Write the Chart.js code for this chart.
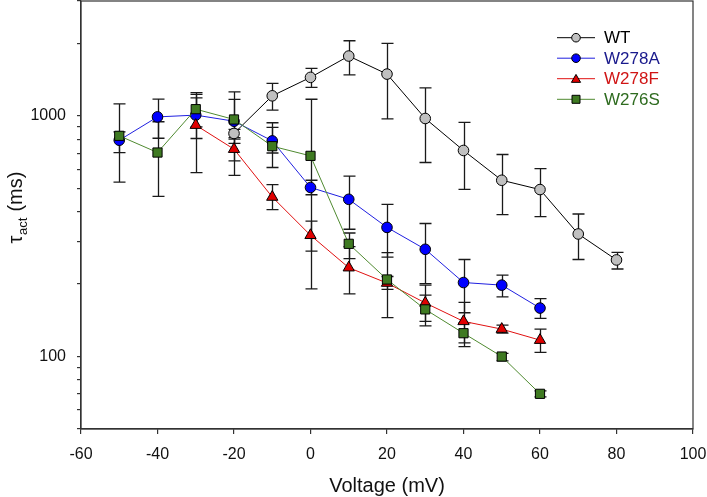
<!DOCTYPE html>
<html>
<head>
<meta charset="utf-8">
<script src="https://cdn.jsdelivr.net/npm/chart.js@4/dist/chart.umd.min.js"></script>
<style>
  html, body { margin: 0; padding: 0; background: #fff; }
  #wrap { width: 707px; height: 497px; position: relative; }
</style>
</head>
<body>
<div id="wrap"><canvas id="c" width="707" height="497"></canvas></div>
<script>
// ---- data ----
const voltages = [-50, -40, -30, -20, -10, 0, 10, 20, 30, 40, 50, 60, 70, 80];

const wtMean  = [null, null, null, 845, 1211, 1445, 1772, 1491, 975, 718, 540, 494, 323, 252];
const wtLow   = [null, null, null, 812, 1056, 1313, 1481, 972, 640, 495, 389, 381, 253, 231];
const wtHigh  = [null, null, null, 878, 1364, 1575, 2051, 2000, 1308, 939, 691, 604, 391, 271];

const aMean   = [792, 990, 1007, 950, 787, 504, 450, 344, 279, 203, 198, 159, null, null];
const aLow    = [704, 807, 805, 566, 610, 470, 338, 259, 201, 152, 177, 144, null, null];
const aHigh   = [858, 1173, 1188, 1258, 936, 540, 562, 429, 357, 253, 218, 174, null, null];

const fMean   = [null, null, 915, 727, 460, 319, 234, 202, 167, 140, 130, 117, null, null];
const fLow    = [null, null, 581, 650, 408, 274, 182, 190, 140, 114, 125, 104, null, null];
const fHigh   = [null, null, 1249, 800, 518, 365, 286, 215, 198, 168, 135, 130, null, null];

const sMean   = [826, 704, 1066, 966, 748, 682, 294, 209, 157, 125, 100, 70, null, null];
const sLow    = [530, 463, 900, 768, 701, 191, 255, 145, 134, 110, 96, 68, null, null];
const sHigh   = [1122, 945, 1227, 1170, 895, 1172, 326, 270, 180, 138, 103, 72, null, null];

const seriesNames = ['WT', 'W278A', 'W278F', 'W276S'];
const xTicks = [-60, -40, -20, 0, 20, 40, 60, 80, 100];
const yTicks = [50, 60, 70, 80, 90, 100, 200, 300, 400, 500, 600, 700, 800, 900, 1000, 2000, 3000];
const yLabelled = [100, 1000];

// ---- helpers ----
function pts(mean) {
  const out = [];
  voltages.forEach((v, i) => { if (mean[i] != null) out.push({x: v, y: mean[i]}); });
  return out;
}

const styles = [
  {line: '#000000', fill: '#c0c0c0', pointStyle: 'circle', r: 5.3, text: '#000000'},
  {line: '#1f1fe0', fill: '#0000ff', pointStyle: 'circle', r: 5.3, text: '#1a1a8c'},
  {line: '#e01010', fill: '#e00000', pointStyle: 'triangle', r: 6.5, text: '#d01515'},
  {line: '#4f8a30', fill: '#3f7a22', pointStyle: 'rect', r: 6.5, text: '#2e6b1f'}
];
const means = [wtMean, aMean, fMean, sMean];
const lows = [wtLow, aLow, fLow, sLow];
const highs = [wtHigh, aHigh, fHigh, sHigh];
const orders = [4, 3, 2, 1];

const datasets = seriesNames.map((name, k) => ({
  label: name,
  data: pts(means[k]),
  borderColor: styles[k].line,
  borderWidth: 1,
  backgroundColor: styles[k].fill,
  pointBackgroundColor: styles[k].fill,
  pointBorderColor: '#000',
  pointBorderWidth: 1,
  pointStyle: styles[k].pointStyle,
  pointRadius: styles[k].r,
  pointHoverRadius: styles[k].r,
  tension: 0,
  clip: false,
  order: orders[k],
  lows: lows[k],
  highs: highs[k]
}));

// ---- plugins ----
const errorBars = {
  id: 'errorBars',
  beforeDatasetsDraw(chart) {
    const ctx = chart.ctx;
    const xs = chart.scales.x, ys = chart.scales.y;
    ctx.save();
    ctx.strokeStyle = '#1a1a1a';
    ctx.lineWidth = 1.3;
    chart.data.datasets.forEach(ds => {
      voltages.forEach((v, i) => {
        const lo = ds.lows[i], hi = ds.highs[i];
        if (lo == null || hi == null) return;
        const px = Math.round(xs.getPixelForValue(v)) + 0.5;
        const pl = ys.getPixelForValue(lo), ph = ys.getPixelForValue(hi);
        ctx.beginPath();
        ctx.moveTo(px, pl); ctx.lineTo(px, ph);
        ctx.moveTo(px - 6, pl); ctx.lineTo(px + 6, pl);
        ctx.moveTo(px - 6, ph); ctx.lineTo(px + 6, ph);
        ctx.stroke();
      });
    });
    ctx.restore();
  }
};

function drawMarker(ctx, style, x, y, r, fill) {
  ctx.beginPath();
  if (style === 'circle') {
    ctx.arc(x, y, r, 0, Math.PI * 2);
  } else if (style === 'triangle') {
    ctx.moveTo(x, y - r);
    ctx.lineTo(x + r * 0.866, y + r * 0.5);
    ctx.lineTo(x - r * 0.866, y + r * 0.5);
    ctx.closePath();
  } else {
    ctx.rect(x - r, y - r, 2 * r, 2 * r);
  }
  ctx.fillStyle = fill;
  ctx.fill();
  ctx.strokeStyle = '#000';
  ctx.lineWidth = 1;
  ctx.stroke();
}

const frameAndText = {
  id: 'frameAndText',
  afterDraw(chart) {
    const ctx = chart.ctx;
    const a = chart.chartArea;
    ctx.save();
    // frame
    ctx.strokeStyle = '#333';
    ctx.lineWidth = 1.2;
    ctx.strokeRect(a.left, a.top, a.right - a.left, a.bottom - a.top);

    // legend
    const rows = [37.7, 58.2, 78.7, 99.3];
    const sizes = [4.3, 4.3, 5.3, 4.0];
    seriesNames.forEach((name, k) => {
      const y = rows[k];
      ctx.strokeStyle = styles[k].line;
      ctx.lineWidth = 1;
      ctx.beginPath();
      ctx.moveTo(557, y); ctx.lineTo(595, y);
      ctx.stroke();
      drawMarker(ctx, styles[k].pointStyle, 576, y + (k === 2 ? 1 : 0), sizes[k], styles[k].fill);
      ctx.fillStyle = styles[k].text;
      ctx.font = '17px "Liberation Sans", Arial, sans-serif';
      ctx.textBaseline = 'middle';
      ctx.textAlign = 'left';
      ctx.fillText(name, 604, y + 1);
    });

    // x title
    ctx.fillStyle = '#111';
    ctx.font = '20px "Liberation Sans", Arial, sans-serif';
    ctx.textAlign = 'center';
    ctx.textBaseline = 'alphabetic';
    ctx.fillText('Voltage (mV)', (a.left + a.right) / 2, 492);

    // y title with subscript
    const big = '20px "Liberation Sans", Arial, sans-serif';
    const small = '13px "Liberation Sans", Arial, sans-serif';
    ctx.font = big; const w1 = ctx.measureText('\u03C4').width;
    ctx.font = small; const w2 = ctx.measureText('act').width;
    ctx.font = big; const w3 = ctx.measureText(' (ms)').width;
    const total = w1 + w2 + w3;
    ctx.translate(22, 208);
    ctx.rotate(-Math.PI / 2);
    ctx.textAlign = 'left';
    let x0 = -total / 2;
    ctx.font = big; ctx.fillText('\u03C4', x0, 0);
    ctx.font = small; ctx.fillText('act', x0 + w1 + 0.5, 5);
    ctx.font = big; ctx.fillText(' (ms)', x0 + w1 + w2 + 1, 0);
    ctx.restore();
  }
};

const tickFont = {family: '"Liberation Sans", Arial, sans-serif', size: 16};

new Chart(document.getElementById('c'), {
  type: 'line',
  data: { datasets },
  options: {
    responsive: false,
    animation: false,
    devicePixelRatio: 1,
    layout: { autoPadding: false, padding: { left: 0, right: 14, top: 1, bottom: 0 } },
    plugins: { legend: { display: false }, tooltip: { enabled: false } },
    scales: {
      x: {
        type: 'linear',
        min: -60, max: 100,
        afterBuildTicks(scale) { scale.ticks = xTicks.map(v => ({value: v})); },
        afterFit(scale) { scale.height = 68; scale.paddingLeft = 0; scale.paddingRight = 0; },
        grid: { drawOnChartArea: false, drawTicks: true, tickLength: 5, color: '#333', lineWidth: 1.2 },
        border: { display: true, color: '#333', width: 1.2 },
        ticks: { color: '#111', font: tickFont, padding: 11, maxRotation: 0, autoSkip: false }
      },
      y: {
        type: 'logarithmic',
        min: 50, max: 3000,
        afterBuildTicks(scale) { scale.ticks = yTicks.map(v => ({value: v})); },
        afterFit(scale) { scale.width = 81; scale.paddingTop = 0; scale.paddingBottom = 0; },
        grid: { drawOnChartArea: false, drawTicks: true, tickLength: 4, color: '#333', lineWidth: 1.2 },
        border: { display: true, color: '#333', width: 1.2 },
        ticks: {
          color: '#111', font: tickFont, padding: 11, autoSkip: false,
          callback: (v) => yLabelled.includes(v) ? String(v) : ''
        }
      }
    }
  },
  plugins: [errorBars, frameAndText]
});
</script>
</body>
</html>
